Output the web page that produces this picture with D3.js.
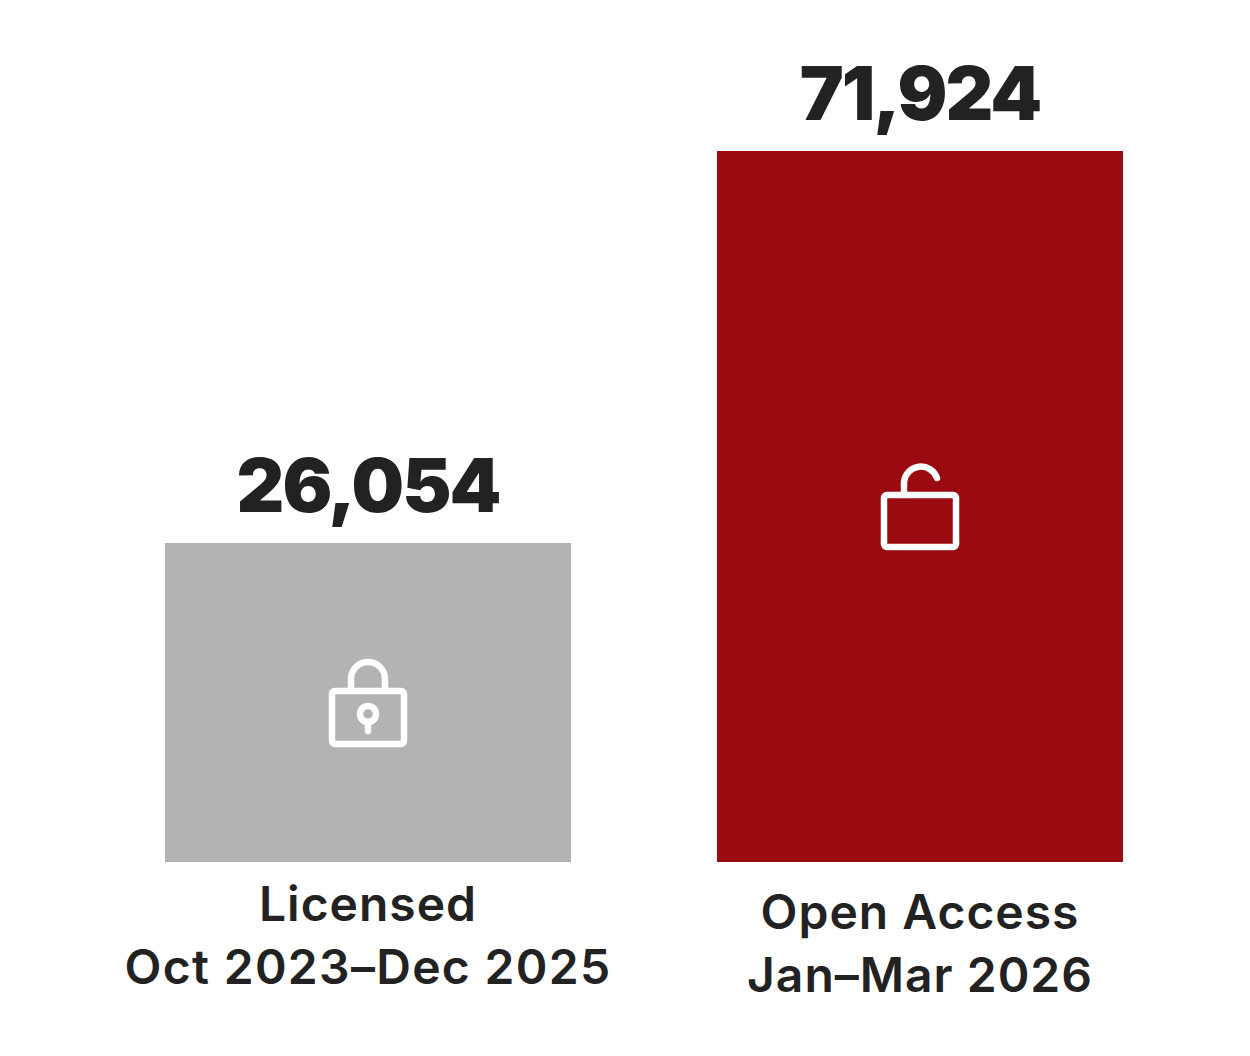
<!DOCTYPE html>
<html><head><meta charset="utf-8"><script src="https://cdn.jsdelivr.net/npm/d3@7"></script>
<style>html,body{margin:0;background:#fff}svg{display:block}</style></head><body><div id="c"></div>
<script>
const categories=["Licensed","Open Access"];
const periods=["Oct 2023–Dec 2025","Jan–Mar 2026"];
// Printed labels, as in the reference.
const valueLabels=["26,054","71,924"];
// Bar lengths as drawn in the reference. The grey bar is taller than its
// printed 26,054 would be on a scale shared with the red bar: it reads about 32,270.
const barValues=[32270,71924];
const colors=["#b3b3b3","#9b0a0f"];
const W=1250,H=1056;
const svg=d3.select("#c").append("svg").attr("width",W).attr("height",H);
const x=d3.scaleBand().domain(categories).range([165,1123]).paddingInner(0.2645).paddingOuter(0);
const y=d3.scaleLinear().domain([0,71924]).range([862,151]);
const font="Inter, 'Liberation Sans', sans-serif";
const cx=d=>x(d)+x.bandwidth()/2;
svg.selectAll("rect.bar").data(categories).join("rect").attr("class","bar")
 .attr("x",d=>x(d)).attr("width",x.bandwidth()).attr("y",(d,i)=>y(barValues[i])).attr("height",(d,i)=>y(0)-y(barValues[i])).attr("fill",(d,i)=>colors[i]);
svg.selectAll("text.v").data(categories).join("text").attr("class","v")
 .attr("x",cx).attr("y",(d,i)=>y(barValues[i])-31).attr("text-anchor","middle")
 .attr("font-family",font).attr("font-weight",900).attr("font-size",74).attr("letter-spacing",-2).attr("fill","#222").text((d,i)=>valueLabels[i]);
const off=[0,8];
svg.selectAll("text.c").data(categories).join("text").attr("class","c")
 .attr("x",cx).attr("y",(d,i)=>921+off[i]).attr("text-anchor","middle")
 .attr("font-family",font).attr("font-weight",600).attr("font-size",48).attr("letter-spacing",1).attr("fill","#222").text(d=>d);
svg.selectAll("text.p").data(categories).join("text").attr("class","p")
 .attr("x",cx).attr("y",(d,i)=>984+off[i]).attr("text-anchor","middle")
 .attr("font-family",font).attr("font-weight",600).attr("font-size",48).attr("letter-spacing",(d,i)=>i?1:1.3).attr("fill","#222").text((d,i)=>periods[i]);
// icons
const lock=(g,open)=>{
 g.attr("fill","none").attr("stroke","#fff").attr("stroke-width",6.5).attr("stroke-linecap","round").attr("stroke-linejoin","round");
 g.append("rect").attr("x",-36).attr("y",-26).attr("width",72).attr("height",open?52:53).attr("rx",3);
 if(open){g.append("path").attr("d","M-16,-26V-39A17,17 0 0 1 17,-43");}
 else{g.append("path").attr("d","M-17,-26V-38A17,17 0 0 1 17,-38V-26");
  g.append("circle").attr("cx",0).attr("cy",-3).attr("r",8);
  g.append("path").attr("d","M0,6V14");}
};
lock(svg.append("g").attr("transform",`translate(${cx("Licensed")},717)`),false);
lock(svg.append("g").attr("transform",`translate(${cx("Open Access")},521)`),true);
</script></body></html>
